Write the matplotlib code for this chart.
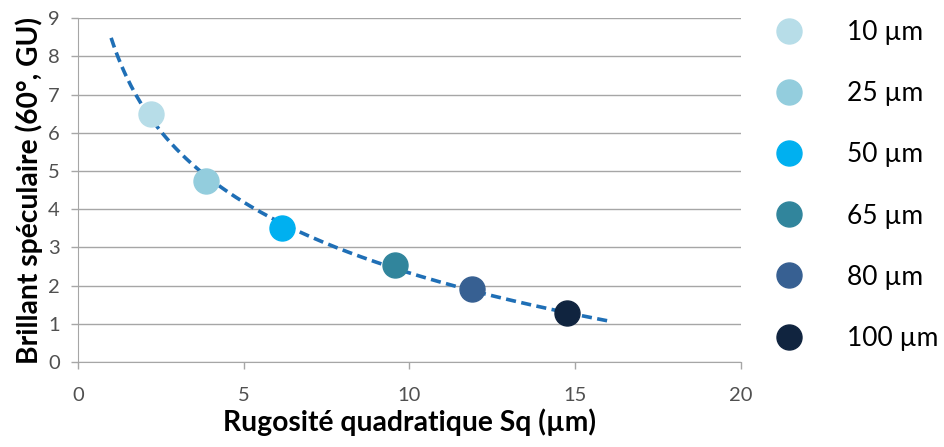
import numpy as np
import matplotlib.pyplot as plt
from matplotlib.lines import Line2D

# data
sq = [2.2, 3.85, 6.15, 9.55, 11.9, 14.75]
gloss = [6.5, 4.75, 3.5, 2.55, 1.92, 1.28]
labels = ['10 µm', '25 µm', '50 µm', '65 µm', '80 µm', '100 µm']
colors = ['#b7dde8', '#93cddd', '#00b0f0', '#31859c', '#376092', '#10243f']

# Excel-like logarithmic trendline
b, a = np.polyfit(np.log(sq), gloss, 1)
x_fit = np.linspace(1.0, 16.0, 200)
y_fit = a + b * np.log(x_fit)

plt.rcParams['font.family'] = ['Lato', 'DejaVu Sans']

fig = plt.figure(figsize=(9.44, 4.47), dpi=100)
ax = fig.add_axes([0.0826, 0.190, 0.7023, 0.7696])

ax.plot(x_fit, y_fit, color='#1f6fb6', lw=2.6, ls=(0, (2.8, 1.5)), zorder=2)
for x, y, c, lab in zip(sq, gloss, colors, labels):
    ax.plot(x, y, 'o', ms=18, color=c, mec=c, zorder=3, label=lab)

ax.set_xlim(0, 20)
ax.set_ylim(0, 9)
ax.set_xticks(range(0, 21, 5))
ax.set_yticks(range(0, 10))
ax.yaxis.grid(True, color='#a6a6a6', lw=1)
ax.set_axisbelow(True)
for s in ['top', 'right']:
    ax.spines[s].set_visible(False)
for s in ['left', 'bottom']:
    ax.spines[s].set_color('#a6a6a6')
ax.tick_params(colors='#a6a6a6', labelcolor='#505050', labelsize=14.5, length=5, width=1)
ax.tick_params(axis='x', pad=13)
ax.tick_params(axis='y', pad=8)

ax.set_xlabel('Rugosité quadratique Sq (µm)', fontsize=20.3, fontweight='bold', labelpad=3)
ax.set_ylabel('Brillant spéculaire (60°, GU)', fontsize=20.3, fontweight='bold', labelpad=4)

handles = [Line2D([], [], marker='o', ls='', ms=18, color=c, mec=c) for c in colors]
fig.legend(handles, labels, loc='upper left', bbox_to_anchor=(0.822, 0.955),
           frameon=False, fontsize=19, labelspacing=1.37, handletextpad=1.71,
           handlelength=1.0, borderpad=0, borderaxespad=0)

fig.savefig('out.png', dpi=100)
